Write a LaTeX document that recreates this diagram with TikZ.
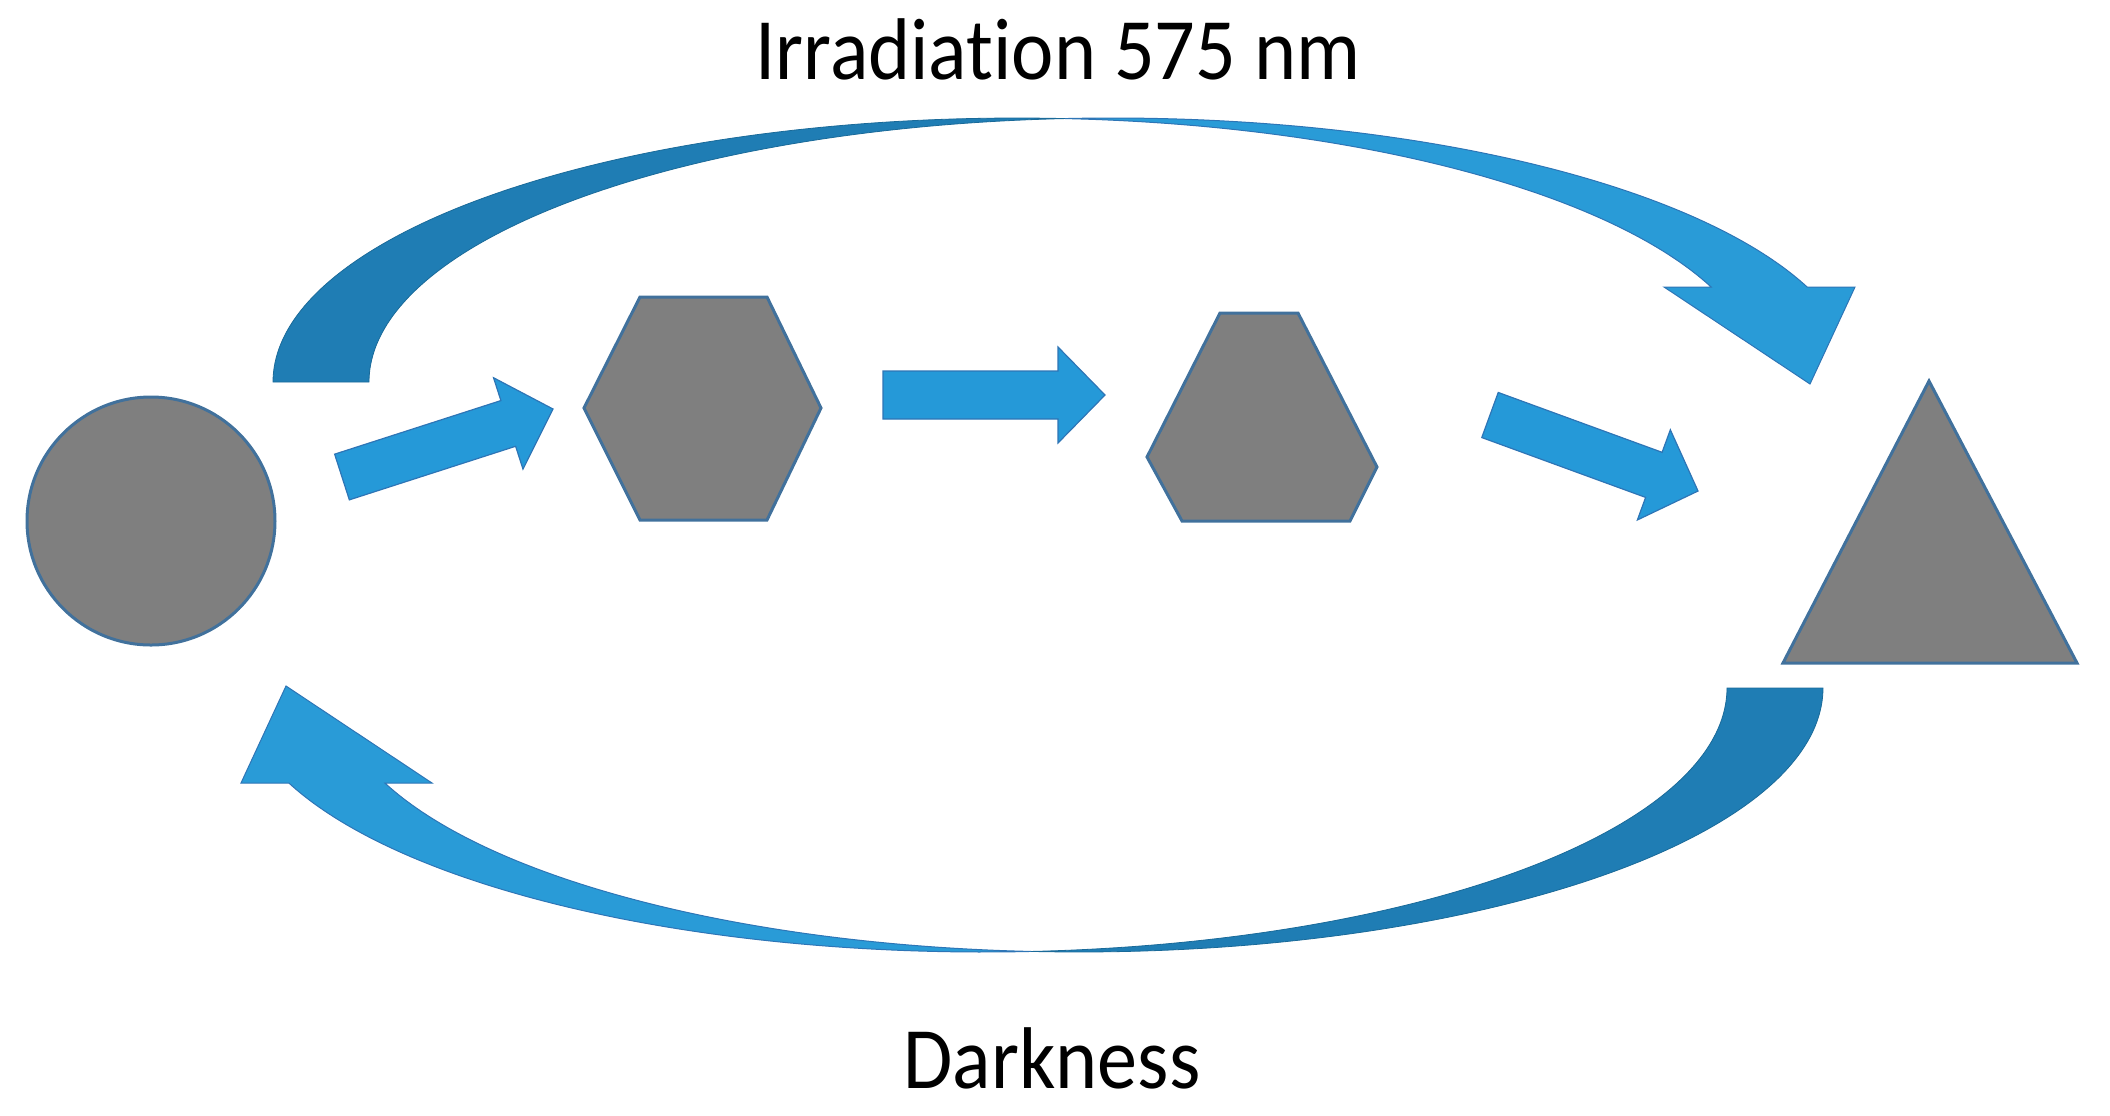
\documentclass[tikz,border=0pt]{standalone}
\usepackage{fontspec}
\setmainfont{Carlito}[Ligatures=NoCommon]
\usetikzlibrary{calc}
\definecolor{grayfill}{HTML}{7F7F7F}
\definecolor{grayline}{HTML}{41719C}
\definecolor{arrowfill}{HTML}{2599D8}
\definecolor{arrowline}{HTML}{2E75B6}
\definecolor{backfill}{HTML}{1F7DB4}
\definecolor{frontfill}{HTML}{299BD7}
\tikzset{
  molshape/.style={fill=grayfill, draw=grayline, line width=1.5pt, line join=miter},
  blockarr/.style={fill=arrowfill, draw=arrowline, line width=0.6pt, line join=miter},
  ribbonback/.style={fill=backfill, draw=backfill!85!black, line width=0.4pt},
  ribbonfront/.style={fill=frontfill, draw=arrowline, line width=0.5pt, line join=miter},
  lbl/.style={anchor=base, inner sep=0pt, xscale=0.915, font=\fontsize{43.8}{52}\selectfont}
}
\newcommand\blockarrow[2]{%
  \path[blockarr]
    ($(#1)!12pt!90:(#2)$) --
    ($($(#2)!23.5pt!(#1)$)!12pt!90:(#2)$) --
    ($($(#2)!23.5pt!(#1)$)!24pt!90:(#2)$) --
    (#2) --
    ($($(#2)!23.5pt!(#1)$)!24pt!-90:(#2)$) --
    ($($(#2)!23.5pt!(#1)$)!12pt!-90:(#2)$) --
    ($(#1)!12pt!-90:(#2)$) -- cycle;}
\newcommand\curvedarrow{%
  \path[ribbonback]
    plot[domain=180:86.3,samples=90] ({1017+744*cos(\x)},{382-264*sin(\x)})
    -- plot[domain=93.7:180,samples=90] ({1113+744*cos(\x)},{382-264*sin(\x)})
    -- cycle;
  \path[ribbonfront]
    plot[domain=93.7:21.09,samples=90] ({1113+744*cos(\x)},{382-264*sin(\x)})
    -- (1855,287) -- (1810,384) -- (1664,287)
    -- plot[domain=21.09:86.3,samples=90] ({1017+744*cos(\x)},{382-264*sin(\x)})
    -- cycle;}
\begin{document}
\begin{tikzpicture}[x=0.5pt,y=-0.5pt]
\useasboundingbox (0,0) rectangle (2110,1115);
% shapes
\node[molshape, circle, minimum size=124pt, inner sep=0pt] (circ) at (151,521) {};
\path[molshape] (640,297) -- (767,297) -- (821,408) -- (767,520) -- (640,520) -- (584,408) -- cycle;
\coordinate (hexA) at (703,408);
\path[molshape] (1220,313) -- (1298,313) -- (1377,467) -- (1350,521) -- (1182,521) -- (1147,457) -- cycle;
\coordinate (hexB) at (1262,420);
\path[molshape] (1929,381) -- (2077,663) -- (1783,663) -- cycle;
\coordinate (tri) at (1929,560);
% straight block arrows
\coordinate (a1t) at (342,477); \coordinate (a1h) at (553,409);
\coordinate (a2t) at (883,395); \coordinate (a2h) at (1105,395);
\coordinate (a3t) at (1490,415); \coordinate (a3h) at (1698,491);
\blockarrow{a1t}{a1h}
\blockarrow{a2t}{a2h}
\blockarrow{a3t}{a3h}
% curved arrows
\begin{scope}
  \curvedarrow
\end{scope}
\begin{scope}[rotate around={180:(1048,535)}]
  \curvedarrow
\end{scope}
% labels
\node[lbl] (irr) at (1058,79) {Irradiation 575 nm};
\node[lbl] (dark) at (1052,1088) {Darkness};
\end{tikzpicture}
\end{document}
